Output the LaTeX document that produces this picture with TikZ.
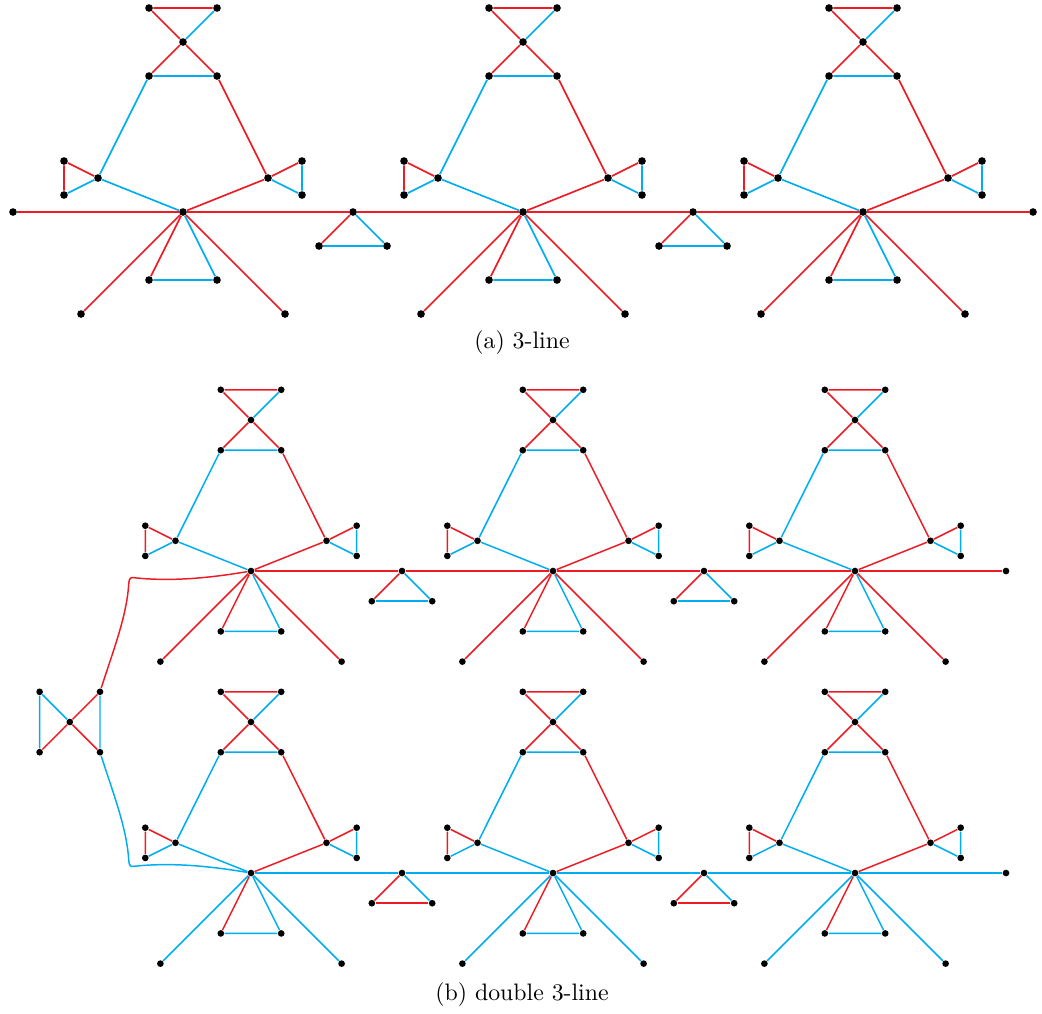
\documentclass[tikz,border=0pt]{standalone}
\definecolor{cred}{RGB}{237,28,36}
\definecolor{cblue}{RGB}{0,174,239}
\tikzset{
  dot/.style={circle,fill=black,inner sep=0pt,minimum size=3.2pt},
  redline/.style={draw=cred,line width=0.7pt},
  blueline/.style={draw=cblue,line width=0.7pt},
  caption/.style={font=\normalsize,inner sep=0pt}
}
% gadget: #1 prefix, #2 leg style
\newcommand\gadget[2]{%
  \node[dot] (#1h) at (0,0) {};
  \node[dot] (#1t1) at (-1,6) {};
  \node[dot] (#1t2) at (1,6) {};
  \node[dot] (#1tc) at (0,5) {};
  \node[dot] (#1t3) at (-1,4) {};
  \node[dot] (#1t4) at (1,4) {};
  \node[dot] (#1la) at (-2.5,1) {};
  \node[dot] (#1lb) at (-3.5,1.5) {};
  \node[dot] (#1lc) at (-3.5,0.5) {};
  \node[dot] (#1ra) at (2.5,1) {};
  \node[dot] (#1rb) at (3.5,1.5) {};
  \node[dot] (#1rc) at (3.5,0.5) {};
  \node[dot] (#1ba) at (-1,-2) {};
  \node[dot] (#1bb) at (1,-2) {};
  \node[dot] (#1lg) at (-3,-3) {};
  \node[dot] (#1rg) at (3,-3) {};
  \draw[redline] (#1t1) -- (#1t2) (#1t1) -- (#1tc) (#1tc) -- (#1t3) (#1tc) -- (#1t4)
     (#1t4) -- (#1ra) (#1lb) -- (#1la) (#1lb) -- (#1lc) (#1ra) -- (#1rb) (#1ra) -- (#1h) (#1h) -- (#1ba);
  \draw[blueline] (#1t2) -- (#1tc) (#1t3) -- (#1t4) (#1t3) -- (#1la) (#1lc) -- (#1la) (#1la) -- (#1h)
     (#1rb) -- (#1rc) (#1ra) -- (#1rc) (#1h) -- (#1bb) (#1ba) -- (#1bb);
  \draw[#2] (#1h) -- (#1lg) (#1h) -- (#1rg);
}
% connector triangle: #1 prefix, #2 bottom style
\newcommand\conn[2]{%
  \node[dot] (#1c) at (5,0) {};
  \node[dot] (#1l) at (4,-1) {};
  \node[dot] (#1r) at (6,-1) {};
  \draw[redline] (#1c) -- (#1l);
  \draw[blueline] (#1c) -- (#1r);
  \draw[#2] (#1l) -- (#1r);
}
\begin{document}
\begin{tikzpicture}[x=0.42pt,y=-0.42pt]
\useasboundingbox (0,0) rectangle (1042,1013);
% ---------- (a) ----------
\begin{scope}[shift={(183,212)},x=14.28pt,y=14.28pt]
  \gadget{aa}{redline}
  \begin{scope}[shift={(10,0)}]\gadget{ab}{redline}\end{scope}
  \begin{scope}[shift={(20,0)}]\gadget{ac}{redline}\end{scope}
  \conn{ak}{blueline}
  \begin{scope}[shift={(10,0)}]\conn{am}{blueline}\end{scope}
  \node[dot] (aL) at (-5,0) {};
  \node[dot] (aR) at (25,0) {};
  \draw[redline] (aL) -- (aah) -- (akc) -- (abh) -- (amc) -- (ach) -- (aR);
\end{scope}
\node[caption] (capa) at (522,343) {(a) 3-line};
% ---------- (b) ----------
\begin{scope}[shift={(251,571)},x=12.684pt,y=12.684pt,dot/.append style={minimum size=2.8pt},
  redline/.append style={line width=0.62pt},blueline/.append style={line width=0.62pt}]
  \gadget{ba}{redline}
  \begin{scope}[shift={(10,0)}]\gadget{bb}{redline}\end{scope}
  \begin{scope}[shift={(20,0)}]\gadget{bc}{redline}\end{scope}
  \conn{bk}{blueline}
  \begin{scope}[shift={(10,0)}]\conn{bm}{blueline}\end{scope}
  \node[dot] (bR) at (25,0) {};
  \draw[redline] (bah) -- (bkc) -- (bbh) -- (bmc) -- (bch) -- (bR);
  \begin{scope}[shift={(0,-10)}]
    \gadget{ca}{blueline}
    \begin{scope}[shift={(10,0)}]\gadget{cb}{blueline}\end{scope}
    \begin{scope}[shift={(20,0)}]\gadget{cc}{blueline}\end{scope}
    \conn{ck}{redline}
    \begin{scope}[shift={(10,0)}]\conn{cm}{redline}\end{scope}
    \node[dot] (cR) at (25,0) {};
    \draw[blueline] (cah) -- (ckc) -- (cbh) -- (cmc) -- (cch) -- (cR);
  \end{scope}
  % left bowtie
  \node[dot] (L1) at (-7,-4) {};
  \node[dot] (L2) at (-5,-4) {};
  \node[dot] (Lc) at (-6,-5) {};
  \node[dot] (L3) at (-7,-6) {};
  \node[dot] (L4) at (-5,-6) {};
  \draw[blueline] (L1) -- (L3) (L1) -- (Lc) (L2) -- (L4);
  \draw[redline] (Lc) -- (L3) (Lc) -- (L2) (Lc) -- (L4);
  \draw[redline] (L2) .. controls (-4.55,-2.6) and (-4.12,-1.5) .. (-4.05,-0.45)
     .. controls (-4.03,-0.2) and (-4.0,-0.2) .. (-3.8,-0.23)
     .. controls (-2.5,-0.36) and (-1.2,-0.2) .. (bah);
  \draw[blueline] (L4) .. controls (-4.55,-7.4) and (-4.12,-8.5) .. (-4.05,-9.55)
     .. controls (-4.03,-9.8) and (-4.0,-9.8) .. (-3.8,-9.77)
     .. controls (-2.5,-9.64) and (-1.2,-9.8) .. (cah);
\end{scope}
\node[caption] (capb) at (522,995) {(b) double 3-line};
\end{tikzpicture}
\end{document}
